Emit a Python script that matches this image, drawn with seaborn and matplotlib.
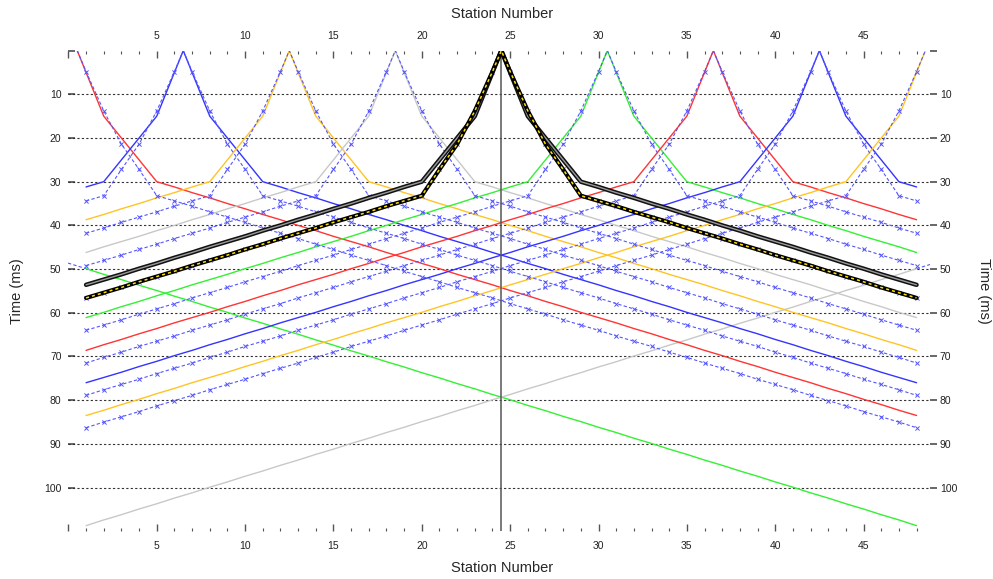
import matplotlib
matplotlib.use("Agg")
import matplotlib.pyplot as plt
import seaborn as sns

# geophone stations and shot points (station units)
stations = list(range(1, 49))
shots = [0.5, 6.5, 12.5, 18.5, 24.5, 30.5, 36.5, 42.5, 48.5]
shot_colors = ["#ff3434", "#3434ff", "#ffc423", "#c8c8c8", "black",
               "#34f034", "#ff3434", "#3434ff", "#ffc423"]
selected_shot = 24.5

# traveltimes (ms) vs source-receiver offset 0.5, 1.5, ... 47.5 stations
tt_calc = [5.0, 15.0, 20.0, 25.0, 30.0, 31.2, 32.5, 33.7, 35.0, 36.2,
           37.5, 38.7, 40.0, 41.2, 42.5, 43.7, 44.9, 46.2, 47.4, 48.7,
           49.9, 51.2, 52.4, 53.6, 54.9, 56.1, 57.4, 58.6, 59.9, 61.1,
           62.3, 63.6, 64.8, 66.1, 67.3, 68.6, 69.8, 71.1, 72.3, 73.6,
           74.8, 76.0, 77.3, 78.5, 79.8, 81.0, 82.3, 83.5]
tt_obs = [4.8, 13.8, 21.4, 27.2, 33.2, 34.4, 35.6, 36.9, 38.1, 39.3,
          40.6, 41.8, 43.0, 44.3, 45.5, 46.8, 48.0, 49.2, 50.5, 51.7,
          52.9, 54.2, 55.4, 56.6, 57.9, 59.1, 60.3, 61.6, 62.8, 64.0,
          65.3, 66.5, 67.7, 69.0, 70.2, 71.5, 72.7, 73.9, 75.2, 76.4,
          77.6, 78.9, 80.1, 81.3, 82.6, 83.8, 85.0, 86.3]

# far offset shots, times at stations 1..48
far_shots = [-38.9, 87.9]
far_colors = ["#34f034", "#c8c8c8"]
far_left_tt = [49.9, 51.2, 52.4, 53.7, 54.9, 56.2, 57.4, 58.7, 59.9, 61.2,
               62.4, 63.7, 64.9, 66.2, 67.4, 68.7, 69.9, 71.2, 72.4, 73.7,
               74.9, 76.2, 77.4, 78.7, 79.9, 81.2, 82.4, 83.7, 84.9, 86.2,
               87.4, 88.7, 89.9, 91.2, 92.4, 93.7, 94.9, 96.2, 97.4, 98.7,
               99.9, 101.2, 102.4, 103.7, 104.9, 106.2, 107.4, 108.7]
far_right_tt = [108.7, 107.4, 106.2, 104.9, 103.7, 102.4, 101.2, 99.9, 98.7, 97.4,
                96.2, 94.9, 93.7, 92.4, 91.2, 89.9, 88.7, 87.4, 86.2, 84.9,
                83.7, 82.4, 81.2, 79.9, 78.7, 77.4, 76.2, 74.9, 73.7, 72.4,
                71.2, 69.9, 68.7, 67.4, 66.2, 64.9, 63.7, 62.4, 61.2, 59.9,
                58.7, 57.4, 56.2, 54.9, 53.7, 52.4, 51.2, 49.9]

grid_times = list(range(10, 101, 10))
obs_color = "#5555ff"
obs_dash = (0, (3, 2))


def shot_curve(shot, table):
    # shot point at t=0 plus every station, looked up by offset
    xs = [shot] + stations
    ts = [0.0] + [table[int(abs(st - shot) - 0.5)] for st in stations]
    return xs, ts


sns.set_theme(style="white")
plt.rcParams["font.family"] = ["Liberation Sans", "DejaVu Sans"]

fig = plt.figure(figsize=(9.93, 5.79), dpi=100)
ax = fig.add_axes([68.4 / 993, 1 - 531.3 / 579, (930 - 68.4) / 993, (531.3 - 50.6) / 579])

for t in grid_times:
    ax.axhline(t, color="#333333", lw=0.8, ls=(0, (2, 2)), zorder=1)

# far offset shots: solid along the spread, dashed stub towards the shot
sns.lineplot(x=[far_shots[0], stations[0]], y=[0.0, far_left_tt[0]], ax=ax, color=obs_color,
             lw=0.8, linestyle=obs_dash, estimator=None, zorder=2)
sns.lineplot(x=[stations[-1], far_shots[1]], y=[far_right_tt[-1], 0.0], ax=ax, color=obs_color,
             lw=0.8, linestyle=obs_dash, estimator=None, zorder=2)
for ftt, fc in zip([far_left_tt, far_right_tt], far_colors):
    sns.lineplot(x=stations, y=ftt, ax=ax, color=fc, lw=1.0, estimator=None, zorder=2.2)

# calculated (solid) and observed (dashed + x at stations) traveltimes per shot
for shot, col in zip(shots, shot_colors):
    xs, tc = shot_curve(shot, tt_calc)
    _, to = shot_curve(shot, tt_obs)
    sns.lineplot(x=xs, y=to, ax=ax, color=obs_color, lw=0.8, linestyle=obs_dash,
                 estimator=None, zorder=3)
    sns.scatterplot(x=xs[1:], y=to[1:], ax=ax, marker="x", s=9, color=obs_color,
                    linewidth=0.7, zorder=3.1)
    if shot == selected_shot:
        sns.lineplot(x=xs, y=tc, ax=ax, color="#111111", lw=3.2, estimator=None, zorder=4)
        sns.lineplot(x=xs, y=tc, ax=ax, color="#9a9a9a", lw=1.0, estimator=None, zorder=4.1)
        sns.lineplot(x=xs, y=to, ax=ax, color="black", lw=3.0, estimator=None, zorder=4.2)
        sns.lineplot(x=xs, y=to, ax=ax, color="#ffe000", lw=1.1, linestyle=(0, (2, 2)),
                     estimator=None, zorder=4.3)
    else:
        sns.lineplot(x=xs, y=tc, ax=ax, color=col, lw=1.0, estimator=None, zorder=2.5)

ax.axvline(selected_shot, color="#555555", lw=1.1, zorder=3.5)

ax.set_xlim(0, 48.76)
ax.set_ylim(110, 0)
for sp in ax.spines.values():
    sp.set_visible(False)

ax.set_xticks(list(range(0, 46, 5)))
ax.set_xticklabels([""] + [str(v) for v in range(5, 46, 5)])
ax.set_xticks(stations, minor=True)
ax.tick_params(axis="x", which="both", top=True, labeltop=True, bottom=True, labelbottom=True,
               direction="in", colors="#555555", labelcolor="#222222", labelsize=7.5, pad=7)
ax.tick_params(axis="x", which="major", length=5, width=1)
ax.tick_params(axis="x", which="minor", length=2.2, width=0.8)

ax.set_yticks(list(range(0, 101, 10)))
ax.set_yticklabels([""] + [str(v) for v in grid_times])
ax.tick_params(axis="y", left=True, right=False, labelleft=True, direction="in", length=5,
               colors="#555555", labelcolor="#222222", labelsize=7.5, pad=5)
ax.set_xlabel("")
ax.set_ylabel("")

ax2 = ax.twinx()
ax2.set_ylim(110, 0)
ax2.set_yticks(list(range(0, 101, 10)))
ax2.set_yticklabels([""] + [str(v) for v in grid_times])
ax2.tick_params(axis="y", right=True, labelright=True, direction="out", length=5,
                colors="#555555", labelcolor="#222222", labelsize=7.5, pad=2)
for sp in ax2.spines.values():
    sp.set_visible(False)

fig.text(502 / 993, 1 - 14 / 579, "Station Number", ha="center", va="center", fontsize=10.5)
fig.text(502 / 993, 1 - 568 / 579, "Station Number", ha="center", va="center", fontsize=10.5)
fig.text(17 / 993, 1 - 291 / 579, "Time (ms)", ha="center", va="center", rotation=90, fontsize=10.5)
fig.text(984 / 993, 1 - 291 / 579, "Time (ms)", ha="center", va="center", rotation=-90, fontsize=10.5)

fig.savefig("out.png", dpi=100)
